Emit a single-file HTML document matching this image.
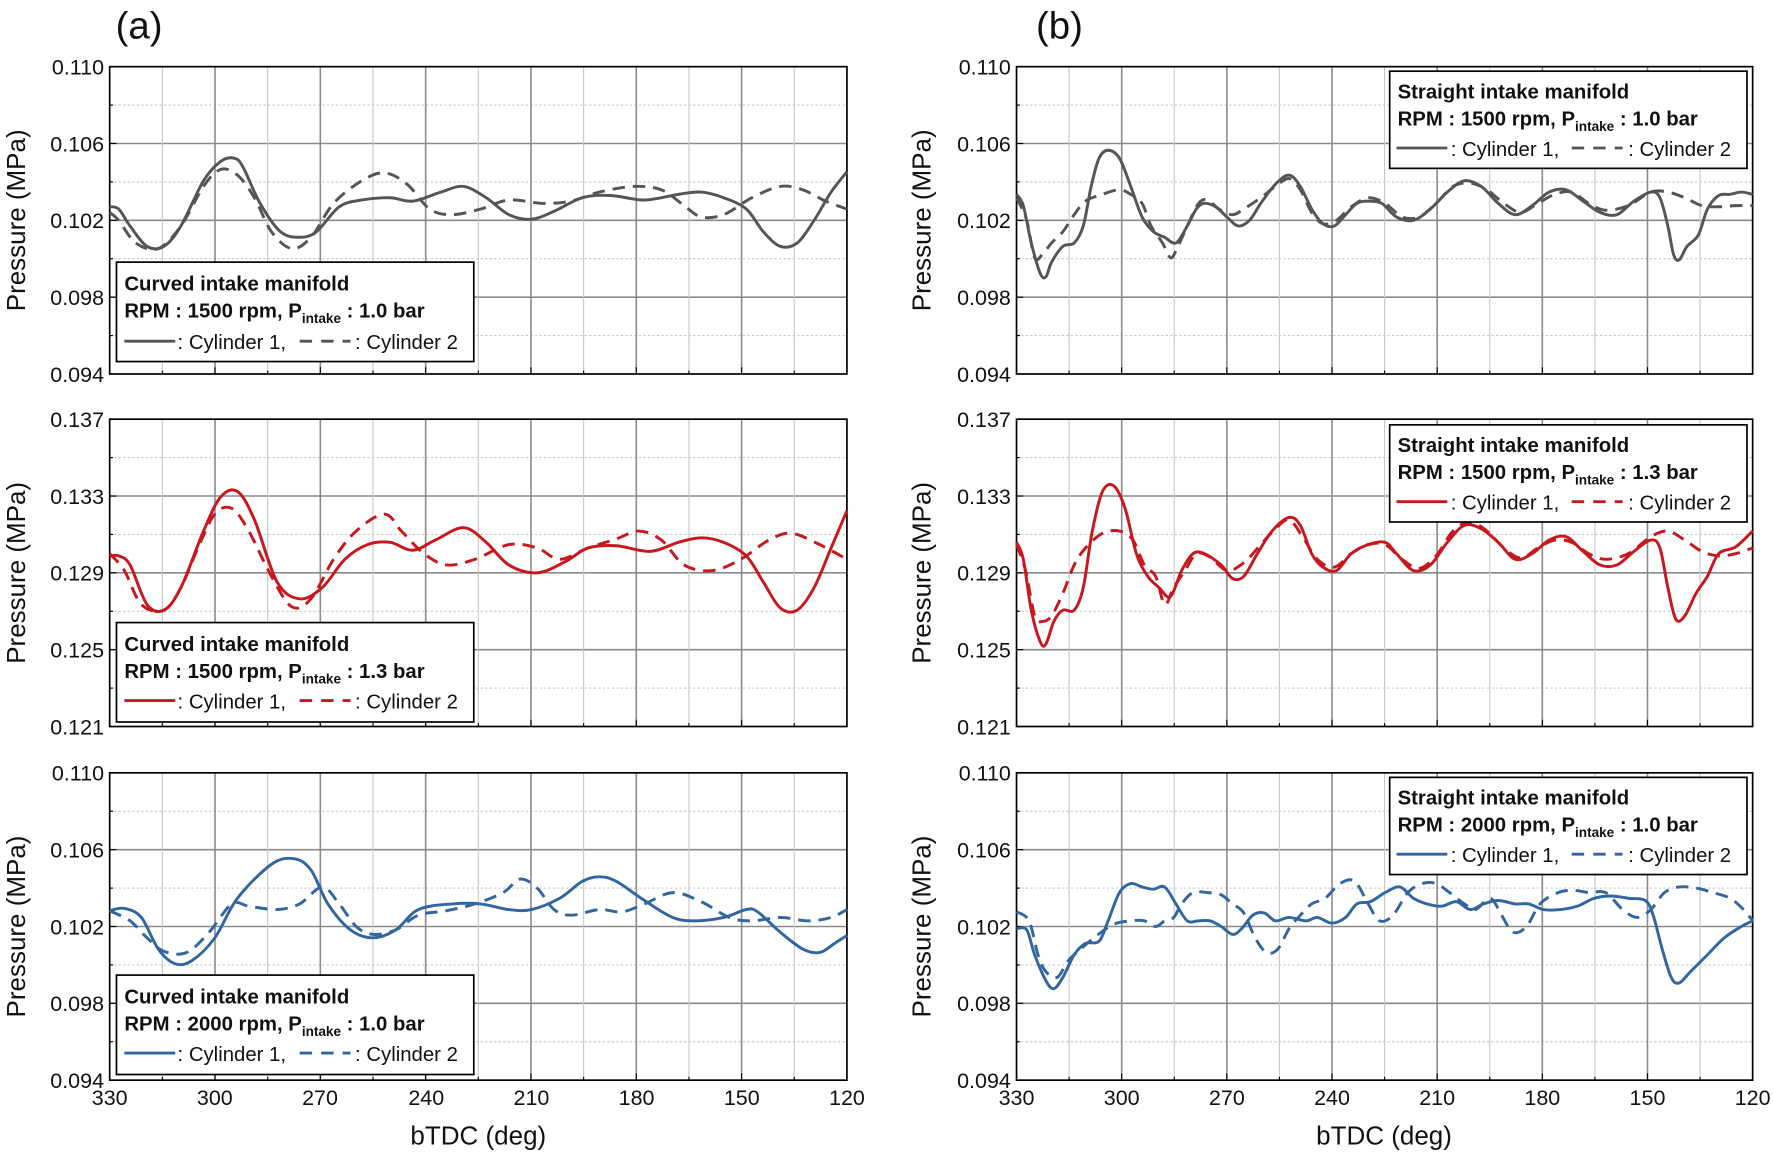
<!DOCTYPE html>
<html><head><meta charset="utf-8"><style>
html,body{margin:0;padding:0;background:#fff;}
svg{display:block;}
text{font-family:"Liberation Sans",Arial,sans-serif;fill:#111;}
</style></head><body>
<svg id="s" width="1773" height="1157" viewBox="0 0 1568 1024" preserveAspectRatio="none" xmlns="http://www.w3.org/2000/svg">
<rect width="1568" height="1024" fill="#fff"/>
<g id="grids"></g>
<g id="curves"></g>
<g id="frames"></g>
<text x="123" y="34" font-size="34" text-anchor="middle">(a)</text>
<text x="937" y="34" font-size="34" text-anchor="middle">(b)</text>
<g font-size="19" text-anchor="end">
<text x="92" y="66">0.110</text><text x="92" y="134">0.106</text><text x="92" y="202">0.102</text><text x="92" y="270">0.098</text><text x="92" y="338">0.094</text>
<text x="92" y="378">0.137</text><text x="92" y="446">0.133</text><text x="92" y="514">0.129</text><text x="92" y="582">0.125</text><text x="92" y="650">0.121</text>
<text x="92" y="691">0.110</text><text x="92" y="759">0.106</text><text x="92" y="827">0.102</text><text x="92" y="895">0.098</text><text x="92" y="963">0.094</text>
<text x="894" y="66">0.110</text><text x="894" y="134">0.106</text><text x="894" y="202">0.102</text><text x="894" y="270">0.098</text><text x="894" y="338">0.094</text>
<text x="894" y="378">0.137</text><text x="894" y="446">0.133</text><text x="894" y="514">0.129</text><text x="894" y="582">0.125</text><text x="894" y="650">0.121</text>
<text x="894" y="691">0.110</text><text x="894" y="759">0.106</text><text x="894" y="827">0.102</text><text x="894" y="895">0.098</text><text x="894" y="963">0.094</text>
</g>
<g font-size="19" text-anchor="middle">
<text x="97" y="978">330</text><text x="190" y="978">300</text><text x="283" y="978">270</text><text x="377" y="978">240</text><text x="470" y="978">210</text><text x="563" y="978">180</text><text x="656" y="978">150</text><text x="749" y="978">120</text>
<text x="899" y="978">330</text><text x="992" y="978">300</text><text x="1085" y="978">270</text><text x="1178" y="978">240</text><text x="1271" y="978">210</text><text x="1364" y="978">180</text><text x="1457" y="978">150</text><text x="1550" y="978">120</text>
</g>
<g font-size="23" text-anchor="middle">
<text x="423" y="1013">bTDC (deg)</text><text x="1224" y="1013">bTDC (deg)</text>
<text transform="translate(22,195) rotate(-90)">Pressure (MPa)</text>
<text transform="translate(22,507) rotate(-90)">Pressure (MPa)</text>
<text transform="translate(22,820) rotate(-90)">Pressure (MPa)</text>
<text transform="translate(823,195) rotate(-90)">Pressure (MPa)</text>
<text transform="translate(823,507) rotate(-90)">Pressure (MPa)</text>
<text transform="translate(823,820) rotate(-90)">Pressure (MPa)</text>
</g>
<!-- legends -->
<g font-size="18">
<rect x="103" y="232" width="316" height="88" fill="#fff" stroke="#000" stroke-width="1.5"/>
<text x="110" y="257" font-weight="bold">Curved intake manifold</text>
<text x="110" y="281" font-weight="bold">RPM : 1500 rpm, P<tspan font-size="12" dy="5">intake</tspan><tspan dy="-5"> : 1.0 bar</tspan></text>
<line x1="110" y1="302" x2="155" y2="302" stroke="#555" stroke-width="2.5"/><line x1="265" y1="302" x2="310" y2="302" stroke="#555" stroke-width="2.5" stroke-dasharray="11,8"/>
<text x="157" y="309">: Cylinder 1,</text><text x="314" y="309">: Cylinder 2</text>

<rect x="103" y="551" width="316" height="88" fill="#fff" stroke="#000" stroke-width="1.5"/>
<text x="110" y="576" font-weight="bold">Curved intake manifold</text>
<text x="110" y="600" font-weight="bold">RPM : 1500 rpm, P<tspan font-size="12" dy="5">intake</tspan><tspan dy="-5"> : 1.3 bar</tspan></text>
<line x1="110" y1="620" x2="155" y2="620" stroke="#c8171d" stroke-width="2.5"/><line x1="265" y1="620" x2="310" y2="620" stroke="#c8171d" stroke-width="2.5" stroke-dasharray="11,8"/>
<text x="157" y="627">: Cylinder 1,</text><text x="314" y="627">: Cylinder 2</text>

<rect x="103" y="863" width="316" height="88" fill="#fff" stroke="#000" stroke-width="1.5"/>
<text x="110" y="888" font-weight="bold">Curved intake manifold</text>
<text x="110" y="912" font-weight="bold">RPM : 2000 rpm, P<tspan font-size="12" dy="5">intake</tspan><tspan dy="-5"> : 1.0 bar</tspan></text>
<line x1="110" y1="932" x2="155" y2="932" stroke="#3266a0" stroke-width="2.5"/><line x1="265" y1="932" x2="310" y2="932" stroke="#3266a0" stroke-width="2.5" stroke-dasharray="11,8"/>
<text x="157" y="939">: Cylinder 1,</text><text x="314" y="939">: Cylinder 2</text>

<rect x="1229" y="63" width="316" height="86" fill="#fff" stroke="#000" stroke-width="1.5"/>
<text x="1236" y="87" font-weight="bold">Straight intake manifold</text>
<text x="1236" y="111" font-weight="bold">RPM : 1500 rpm, P<tspan font-size="12" dy="5">intake</tspan><tspan dy="-5"> : 1.0 bar</tspan></text>
<line x1="1235" y1="131" x2="1280" y2="131" stroke="#555" stroke-width="2.5"/><line x1="1390" y1="131" x2="1435" y2="131" stroke="#555" stroke-width="2.5" stroke-dasharray="11,8"/>
<text x="1283" y="138">: Cylinder 1,</text><text x="1440" y="138">: Cylinder 2</text>

<rect x="1229" y="376" width="316" height="86" fill="#fff" stroke="#000" stroke-width="1.5"/>
<text x="1236" y="400" font-weight="bold">Straight intake manifold</text>
<text x="1236" y="424" font-weight="bold">RPM : 1500 rpm, P<tspan font-size="12" dy="5">intake</tspan><tspan dy="-5"> : 1.3 bar</tspan></text>
<line x1="1235" y1="444" x2="1280" y2="444" stroke="#c8171d" stroke-width="2.5"/><line x1="1390" y1="444" x2="1435" y2="444" stroke="#c8171d" stroke-width="2.5" stroke-dasharray="11,8"/>
<text x="1283" y="451">: Cylinder 1,</text><text x="1440" y="451">: Cylinder 2</text>

<rect x="1229" y="688" width="316" height="86" fill="#fff" stroke="#000" stroke-width="1.5"/>
<text x="1236" y="712" font-weight="bold">Straight intake manifold</text>
<text x="1236" y="736" font-weight="bold">RPM : 2000 rpm, P<tspan font-size="12" dy="5">intake</tspan><tspan dy="-5"> : 1.0 bar</tspan></text>
<line x1="1235" y1="756" x2="1280" y2="756" stroke="#3266a0" stroke-width="2.5"/><line x1="1390" y1="756" x2="1435" y2="756" stroke="#3266a0" stroke-width="2.5" stroke-dasharray="11,8"/>
<text x="1283" y="763">: Cylinder 1,</text><text x="1440" y="763">: Cylinder 2</text>
</g>
</svg>
<script>
const NS="http://www.w3.org/2000/svg";
const s=document.getElementById('s');
const G=document.getElementById('grids'),C=document.getElementById('curves'),F=document.getElementById('frames');
function el(p,t,a){const e=document.createElementNS(NS,t);for(const k in a)e.setAttribute(k,a[k]);p.appendChild(e);return e;}
const panels=[[97,749,59],[97,749,371],[97,749,684],[899,1550,59],[899,1550,371],[899,1550,684]];
for(const [x0,x1,y0] of panels){
  const h=272,w=x1-x0;
  for(let i=1;i<8;i++){const y=y0+i*h/8;el(G,'line',{x1:x0,x2:x1,y1:y,y2:y,stroke:i%2?'#c8c8c8':'#8a8a8a','stroke-width':i%2?1:1.4,'stroke-dasharray':i%2?'2,2':'none'});}
  for(let i=1;i<14;i++){const x=x0+i*w/14;el(G,'line',{x1:x,x2:x,y1:y0,y2:y0+h,stroke:i%2?'#c8c8c8':'#8a8a8a','stroke-width':i%2?1:1.4});}
  el(F,'rect',{x:x0,y:y0,width:w,height:h,fill:'none',stroke:'#000','stroke-width':1.5});
  for(let i=0;i<=14;i++){const x=x0+i*w/14;el(F,'line',{x1:x,x2:x,y1:y0+h,y2:y0+h-(i%2?3:6),stroke:'#000'});}
  for(let i=0;i<=8;i++){const y=y0+i*h/8;el(F,'line',{x1:x0,x2:x0+(i%2?3:6),y1:y,y2:y,stroke:'#000'});}
}
function path(pts){let d='M'+pts[0][0]+','+pts[0][1];for(let i=0;i<pts.length-1;i++){const p0=pts[Math.max(0,i-1)],p1=pts[i],p2=pts[i+1],p3=pts[Math.min(pts.length-1,i+2)];
 d+=' C'+(p1[0]+(p2[0]-p0[0])/6)+','+(p1[1]+(p2[1]-p0[1])/6)+' '+(p2[0]-(p3[0]-p1[0])/6)+','+(p2[1]-(p3[1]-p1[1])/6)+' '+p2[0]+','+p2[1];}return d;}
function P(a){const r=[];for(let i=0;i<a.length;i+=2)r.push([a[i],a[i+1]]);return r;}
function draw(a,col,dash){el(C,'path',{d:path(P(a)),fill:'none',stroke:col,'stroke-width':2.6,'stroke-dasharray':dash?'11,7':'none','stroke-linejoin':'round'});}
const g='#555',r='#c8171d',b='#3266a0';
draw([97,183,105,185,115,200,130,218,145,218,160,200,180,160,195,143,207,140,215,148,230,180,248,205,265,210,280,205,300,183,320,177,345,175,365,178,390,170,410,165,430,175,450,190,470,194,490,187,515,175,540,173,570,177,600,172,620,170,640,175,660,185,675,205,690,218,705,215,720,195,735,170,749,152],g);
draw([97,188,105,195,120,215,140,220,160,200,180,165,195,150,210,155,225,175,240,205,258,220,275,210,295,180,320,160,340,153,360,163,380,185,400,190,425,185,450,177,480,180,505,178,530,170,560,165,585,168,605,182,620,192,640,190,665,175,690,165,710,168,730,178,749,185],g,1);
draw([97,492,105,492,115,500,130,535,145,540,160,520,180,470,195,440,210,435,225,460,245,515,265,530,285,520,305,495,325,482,345,480,365,487,385,478,410,467,430,480,450,500,475,507,500,497,520,485,545,483,575,488,600,480,620,476,640,480,660,492,675,515,690,538,705,540,720,520,735,485,749,452],r);
draw([97,490,110,505,125,535,145,540,160,520,175,485,190,455,205,450,220,470,240,510,258,537,275,530,295,495,315,470,340,455,355,470,375,490,395,500,420,495,450,482,475,485,495,495,520,485,545,477,565,470,585,478,605,500,630,505,655,495,680,478,700,472,725,482,749,495],r,1);
draw([97,806,110,804,125,812,140,840,155,853,170,850,190,830,210,795,240,765,260,760,275,770,290,800,310,823,330,830,350,823,370,805,400,800,425,800,450,805,470,805,495,795,515,780,530,776,545,780,570,797,595,812,615,815,640,812,660,805,670,807,690,825,710,840,725,843,738,835,749,828],b);
draw([97,806,115,815,130,830,145,842,165,843,185,825,205,800,220,802,245,805,265,800,285,785,300,800,315,820,330,827,350,823,370,810,395,806,420,800,445,790,460,778,475,786,490,805,505,810,530,805,550,807,570,800,595,790,620,798,645,812,665,815,690,812,715,815,735,812,749,805],b,1);
draw([899,172,905,182,912,215,920,242,925,245,930,232,940,218,950,215,958,200,965,165,972,140,980,133,990,140,1000,165,1010,192,1020,205,1030,210,1040,215,1050,200,1058,185,1065,180,1075,183,1085,192,1095,200,1105,195,1115,180,1128,163,1140,155,1150,165,1160,185,1170,198,1180,200,1190,190,1200,180,1210,178,1222,180,1235,192,1250,195,1265,185,1280,170,1295,160,1310,165,1325,180,1340,190,1355,182,1370,170,1385,168,1400,178,1415,188,1430,190,1445,178,1460,170,1468,175,1475,200,1480,225,1485,230,1492,218,1502,208,1510,185,1520,173,1530,172,1540,170,1550,172],g);
draw([899,175,908,195,915,228,922,225,930,215,940,205,950,190,960,178,975,172,990,168,1000,172,1010,180,1018,200,1028,215,1035,228,1040,222,1050,200,1060,180,1068,177,1078,185,1090,190,1100,185,1115,175,1128,165,1140,158,1150,168,1160,188,1170,198,1182,195,1195,183,1210,175,1225,180,1240,192,1255,192,1270,180,1285,165,1300,162,1315,168,1330,180,1345,188,1360,180,1375,172,1390,170,1405,180,1420,186,1440,182,1460,170,1475,170,1490,175,1505,182,1520,183,1535,182,1550,182],g,1);
draw([899,480,905,495,912,540,920,568,925,570,932,550,940,540,950,540,958,520,966,470,975,435,985,430,995,450,1005,490,1015,510,1025,520,1035,528,1045,505,1055,490,1065,490,1080,500,1090,512,1100,510,1112,490,1125,470,1140,458,1150,465,1160,490,1170,502,1182,505,1195,490,1210,482,1225,480,1235,490,1250,505,1265,500,1280,480,1295,465,1310,468,1325,480,1340,495,1355,490,1370,478,1385,475,1400,488,1415,500,1430,500,1445,488,1460,478,1468,485,1475,520,1482,548,1490,545,1500,525,1510,510,1520,490,1535,484,1550,470],r);
draw([899,482,907,505,915,545,922,550,930,545,940,525,950,500,960,485,975,472,990,470,1002,478,1012,500,1022,510,1030,535,1038,520,1048,505,1058,490,1070,493,1085,505,1100,498,1115,482,1128,468,1140,460,1152,475,1165,495,1180,502,1195,490,1210,482,1225,482,1240,495,1255,503,1270,492,1285,470,1300,462,1315,470,1330,485,1345,494,1360,485,1375,478,1390,480,1405,490,1420,495,1440,490,1460,475,1475,470,1490,478,1505,488,1520,492,1535,490,1550,485],r,1);
draw([899,822,908,823,915,845,925,868,932,875,940,865,950,845,960,835,972,833,980,815,990,790,1000,782,1010,785,1020,787,1030,785,1040,800,1050,815,1060,815,1070,815,1080,820,1090,827,1098,822,1108,810,1118,808,1128,815,1140,812,1155,815,1165,812,1178,817,1190,812,1200,800,1212,798,1225,790,1238,785,1250,795,1262,800,1275,802,1288,798,1300,805,1312,800,1325,797,1340,800,1352,800,1365,805,1380,805,1395,802,1410,795,1425,793,1440,795,1455,797,1462,810,1470,840,1478,865,1485,870,1495,860,1510,845,1525,830,1540,820,1550,815],b);
draw([899,807,910,815,918,845,925,860,935,865,945,850,958,838,970,828,985,818,1000,815,1012,815,1022,820,1030,815,1038,812,1045,800,1055,790,1068,790,1080,792,1090,800,1100,808,1110,830,1120,843,1130,840,1140,822,1150,810,1160,800,1172,795,1185,782,1198,780,1210,800,1220,815,1232,810,1245,790,1258,782,1270,782,1282,790,1295,800,1305,805,1318,795,1328,810,1338,825,1350,820,1362,800,1378,790,1392,788,1405,790,1420,790,1435,805,1448,812,1460,805,1472,790,1485,785,1500,786,1515,790,1530,795,1542,805,1550,815],b,1);
// move legends group to top (they come after curves already in DOM order) — frames above curves
s.insertBefore(F, G.nextSibling.nextSibling);
</script>
</body></html>
